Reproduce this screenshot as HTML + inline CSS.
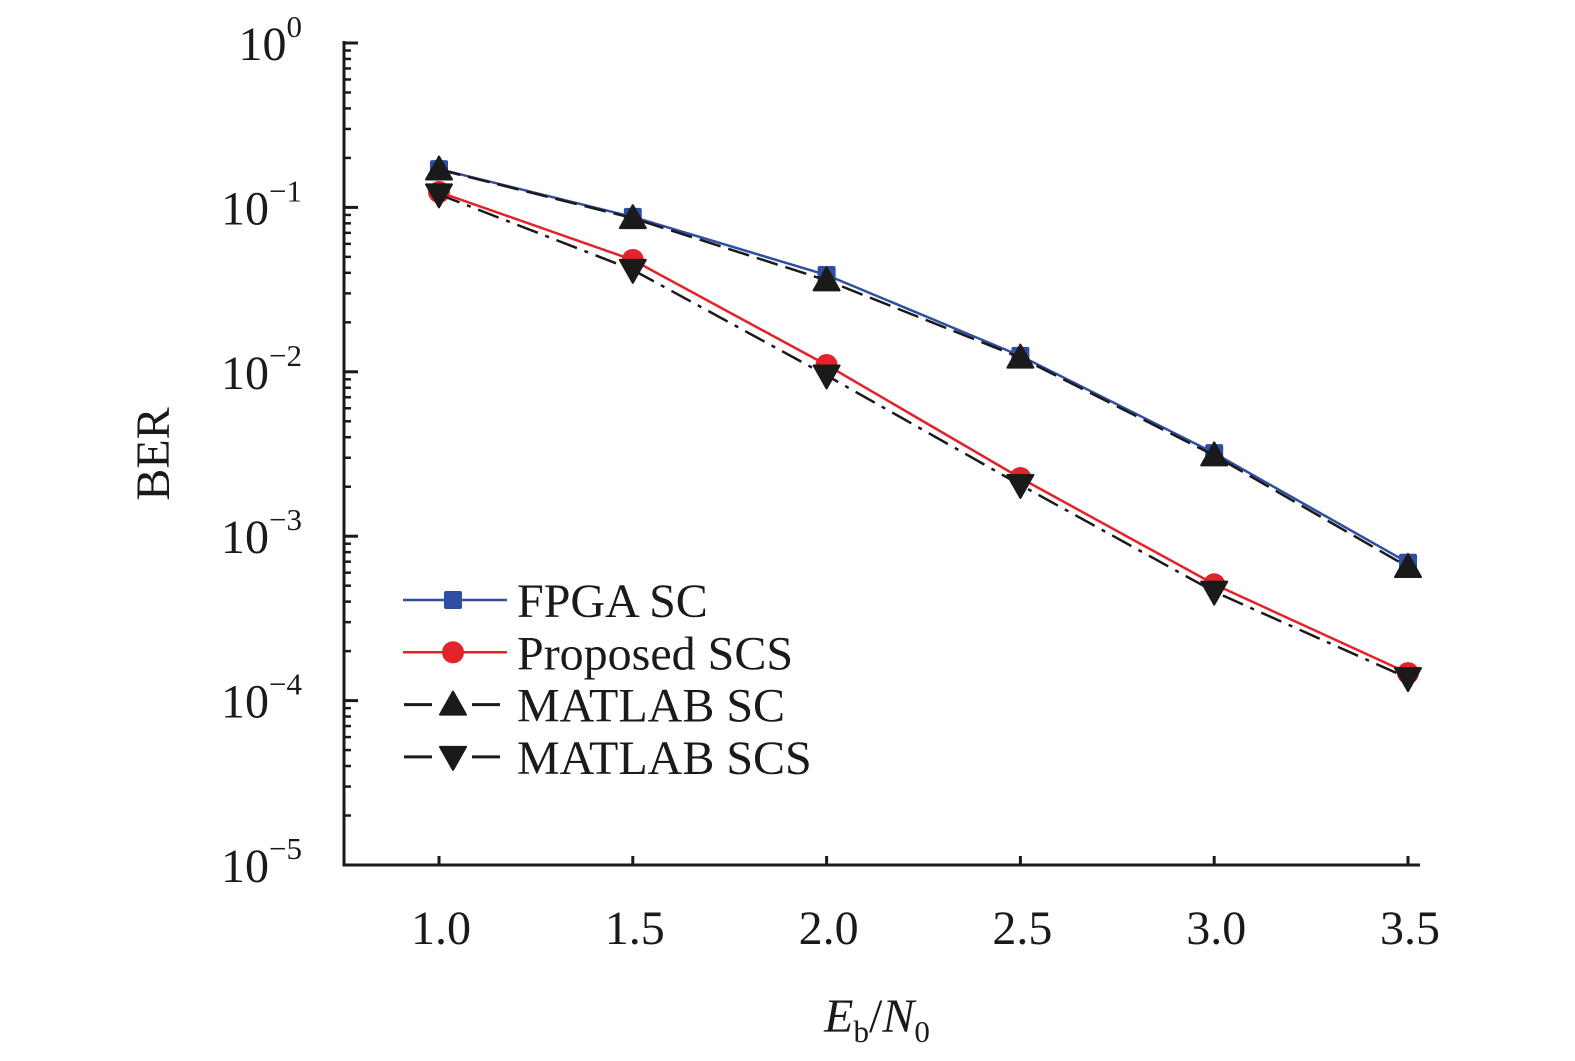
<!DOCTYPE html>
<html><head><meta charset="utf-8"><style>
html,body{margin:0;padding:0;background:#fff;overflow:hidden;width:1575px;height:1061px;}
svg{display:block;}
svg text{font-family:"Liberation Serif",serif;fill:#1a1a1a;}
</style></head><body>
<svg id="chart" width="1575" height="1061" viewBox="0 0 1575 1061" xmlns="http://www.w3.org/2000/svg"></svg>
<script>
const xValues=[1.0,1.5,2.0,2.5,3.0,3.5];
const fpgaSC=[0.171,0.0875,0.0388,0.0125,0.0032,0.00069];
const proposedSCS=[0.124,0.0479,0.011,0.00226,0.00051,0.000147];
const matlabSC=[0.17,0.086,0.036,0.0122,0.0031,0.00065];
const matlabSCS=[0.12,0.0417,0.0095,0.00205,0.00046,0.000137];
const xTicks=["1.0","1.5","2.0","2.5","3.0","3.5"];
const yExps=[0,-1,-2,-3,-4,-5];
const NS="http://www.w3.org/2000/svg";
const svg=document.getElementById('chart');
const X0=344,Y0=43,Y5=865,XR=1420;
const xs=v=>439+(v-1.0)/2.5*(1408-439);
const ys=v=>Y0-Math.log10(v)*(Y5-Y0)/5;
function mk(t,a,p){const e=document.createElementNS(NS,t);for(const k in a)e.setAttribute(k,a[k]);(p||svg).appendChild(e);return e;}
const axes=mk('g',{});


mk('line',{x1:X0,y1:Y0-2,x2:X0,y2:Y5+1.5,stroke:'#1a1a1a','stroke-width':3},axes);
mk('line',{x1:X0-1.5,y1:Y5,x2:XR,y2:Y5,stroke:'#1a1a1a','stroke-width':3},axes);
yExps.forEach(e=>{
 const y=ys(Math.pow(10,e));
 mk('line',{x1:X0,y1:y,x2:X0+14,y2:y,stroke:'#1a1a1a','stroke-width':3},axes);
 if(e>-5)for(let m=2;m<=9;m++){const yy=ys(m*Math.pow(10,e-1));mk('line',{x1:X0,y1:yy,x2:X0+7,y2:yy,stroke:'#1a1a1a','stroke-width':2.5},axes);}
 const t=mk('text',{x:302,y:y+17,'font-size':48,'text-anchor':'end'},axes);
 
 
 t.textContent='10';
 const s=mk('tspan',{dy:-23,'font-size':31},t);s.textContent=e===0?'0':'\u2212'+(-e);
});
xValues.forEach((v,i)=>{
 const x=xs(v);
 mk('line',{x1:x,y1:Y5,x2:x,y2:Y5-9,stroke:'#1a1a1a','stroke-width':3},axes);
 const t=mk('text',{x:x+2,y:Y5+79,'font-size':48,'text-anchor':'middle'},axes);
 
 
 t.textContent=xTicks[i];
});
const yt=mk('text',{x:0,y:0,'font-size':48,'text-anchor':'middle',transform:'translate(169,454) rotate(-90)'});


yt.textContent='BER';
const xt=mk('text',{x:877,y:1032,'font-size':48,'text-anchor':'middle'});


xt.innerHTML='<tspan font-style="italic">E</tspan><tspan font-size="31" dy="10">b</tspan><tspan dy="-10">/</tspan><tspan font-style="italic">N</tspan><tspan font-size="31" dy="10">0</tspan>';
function marker(type,x,y,color,g){
 if(type==='sq')return mk('rect',{x:x-9,y:y-9,width:18,height:18,rx:2,fill:color},g);
 if(type==='ci')return mk('circle',{cx:x,cy:y,r:11,fill:color},g);
 if(type==='up')return mk('path',{d:`M${x},${y-13}L${x+13},${y+10}L${x-13},${y+10}Z`,fill:color,'stroke-linejoin':'round',stroke:color,'stroke-width':2},g);
 return mk('path',{d:`M${x},${y+13}L${x+13},${y-10}L${x-13},${y-10}Z`,fill:color,stroke:color,'stroke-linejoin':'round','stroke-width':2},g);
}
const series=[
 {name:'FPGA SC',data:fpgaSC,color:'#2e4fa3',dash:'',m:'sq',id:'series-fpga-sc'},
 {name:'Proposed SCS',data:proposedSCS,color:'#e4222a',dash:'',m:'ci',id:'series-proposed-scs'},
 {name:'MATLAB SC',data:matlabSC,color:'#1a1a1a',dash:'22,8',m:'up',id:'series-matlab-sc'},
 {name:'MATLAB SCS',data:matlabSCS,color:'#1a1a1a',dash:'22,8,4,8',m:'dn',id:'series-matlab-scs'}
];
series.forEach((s,k)=>{
 const g=mk('g',{});
 
 
 const pts=s.data.map((v,i)=>xs(xValues[i])+','+ys(v)).join(' ');
 const a={points:pts,fill:'none',stroke:s.color,'stroke-width':2.5};
 if(s.dash)a['stroke-dasharray']=s.dash;
 mk('polyline',a,g);
 s.data.forEach((v,i)=>{const m=marker(s.m,xs(xValues[i]),ys(v),s.color,g);});
 const ly=600+k*52.3;
 const lg=mk('g',{});
 
 
 if(s.dash){mk('line',{x1:404,y1:ly,x2:432,y2:ly,stroke:s.color,'stroke-width':3},lg);mk('line',{x1:472,y1:ly,x2:500,y2:ly,stroke:s.color,'stroke-width':3},lg);}
 else mk('line',{x1:403,y1:ly,x2:507,y2:ly,stroke:s.color,'stroke-width':2.5},lg);
 marker(s.m,453,ly,s.color,lg);
 const t=mk('text',{x:517,y:ly+17,'font-size':48},lg);t.textContent=s.name;
});
</script>
</body></html>
